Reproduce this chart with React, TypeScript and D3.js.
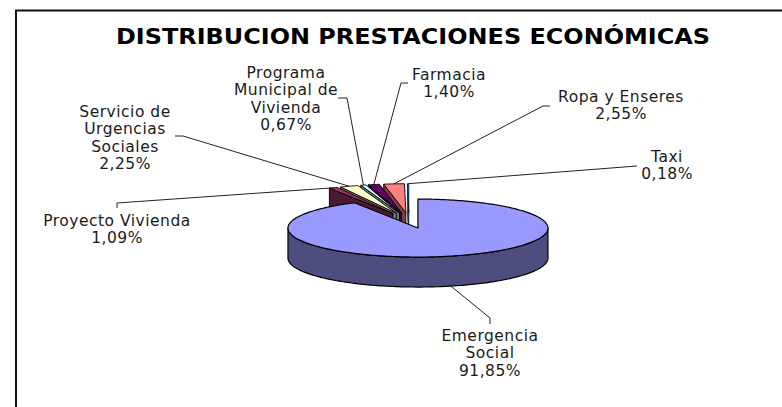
import React from "react";
import * as d3 from "d3";

const categories = ["Emergencia Social", "Proyecto Vivienda", "Servicio de Urgencias Sociales", "Programa Municipal de Vivienda", "Farmacia", "Ropa y Enseres", "Taxi"];
const values = [91.85, 1.09, 2.25, 0.67, 1.4, 2.55, 0.18];
const valueLabels = ["91,85%", "1,09%", "2,25%", "0,67%", "1,40%", "2,55%", "0,18%"];
const colors = ["#9999FF", "#993366", "#FFFFCC", "#CCFFFF", "#660066", "#FF8080", "#0066CC"];
const labelLines = [
  ["Emergencia", "Social"],
  ["Proyecto Vivienda"],
  ["Servicio de", "Urgencias", "Sociales"],
  ["Programa", "Municipal de", "Vivienda"],
  ["Farmacia"],
  ["Ropa y Enseres"],
  ["Taxi"],
];
const title = "DISTRIBUCION PRESTACIONES ECONÓMICAS";

// layout only: label anchor and leader elbows
const labelX = [490, 117, 125, 286, 449, 621, 667];
const labelBaseline = [341, 226, 117, 78, 80, 102, 162];
const lineStep = 17.4;
const elbows: [number, number][][] = [
  [[490, 318], [490, 324]],
  [[117, 203], [117, 208]],
  [[183, 136], [175, 136]],
  [[347, 98], [338, 98]],
  [[401, 83], [408, 83]],
  [[543, 106], [550, 106]],
  [[637, 166]],
];

const W = 782, H = 407;
const cx = 409.1, cy = 220.5, R = 130, tilt = 0.223, depth = 30, explode = 35;

const dim = (c: string) => {
  const k = d3.rgb(c);
  return d3.rgb(k.r * 0.5, k.g * 0.5, k.b * 0.5).formatHex();
};

const arcs = d3.pie<number>().sort(null).value((d) => d)(values);

type P = [number, number];
const lineGen = d3.line<P>();

function geom(i: number) {
  const a = arcs[i];
  const mid = (a.startAngle + a.endAngle) / 2;
  const ox = cx + explode * Math.sin(mid);
  const oy = cy - explode * tilt * Math.cos(mid);
  const at = (t: number, r = R): P => [ox + r * Math.sin(t), oy - r * tilt * Math.cos(t)];
  const n = Math.max(2, Math.ceil((a.endAngle - a.startAngle) / 0.02));
  const rim = d3.range(n + 1).map((j) => at(a.startAngle + ((a.endAngle - a.startAngle) * j) / n));
  return { a, mid, ox, oy, at, rim };
}

function Slice({ i }: { i: number }) {
  const { a, ox, oy, at, rim } = geom(i);
  const top: P[] = [[ox, oy], ...rim];
  const down = (p: P): P => [p[0], p[1] + depth];
  const frontRim = rim.filter((_, j) => {
    const t = a.startAngle + ((a.endAngle - a.startAngle) * j) / (rim.length - 1);
    return t >= Math.PI / 2 && t <= (3 * Math.PI) / 2;
  });
  const startOuter = at(a.startAngle);
  const startWall: P[] = [[ox, oy], startOuter, down(startOuter), down([ox, oy])];
  const dark = dim(colors[i]);
  const sw = values[i] < 0.5 ? 0.5 : values[i] < 5 ? 0.9 : 1.2;
  return (
    <g stroke="#000" strokeWidth={sw} strokeLinejoin="round">
      {i > 0 && <path d={lineGen(startWall) + "Z"} fill={dark} />}
      {frontRim.length > 1 && (
        <path d={lineGen([...frontRim, ...frontRim.slice().reverse().map(down)]) + "Z"} fill={dark} />
      )}
      <path d={lineGen(top) + "Z"} fill={colors[i]} />
    </g>
  );
}

function leaderPoints(i: number): P[] {
  const { mid, at } = geom(i);
  const p = at(mid);
  const start: P = Math.cos(mid) < 0 ? [p[0], p[1] + depth] : p;
  return [start, ...elbows[i]];
}

export default function App() {
  const order = d3.range(values.length - 1, -1, -1);
  return (
    <svg width={W} height={H} style={{ position: "absolute", left: 0, top: 0, background: "#fff" }}>
      <path d={`M782,10.5H16V407`} fill="none" stroke="#111" strokeWidth={2} />
      <text x={116} y={44} textLength={594} lengthAdjust="spacingAndGlyphs" fontFamily="'DejaVu Sans'" fontWeight="bold" fontSize={21.5} fill="#000">
        {title}
      </text>
      {categories.map((c, i) => (
        <path key={c} d={lineGen(leaderPoints(i)) ?? ""} fill="none" stroke="#222" strokeWidth={1} />
      ))}
      {order.map((i) => (
        <Slice key={i} i={i} />
      ))}
      {categories.map((c, i) => (
        <text key={c} textAnchor="middle" fontFamily="'DejaVu Sans'" fontSize={15.5} letterSpacing={0.5} fill="#1a1a1a">
          {[...labelLines[i], valueLabels[i]].map((l, j) => (
            <tspan key={j} x={labelX[i]} y={labelBaseline[i] + j * lineStep}>
              {l}
            </tspan>
          ))}
        </text>
      ))}
    </svg>
  );
}
